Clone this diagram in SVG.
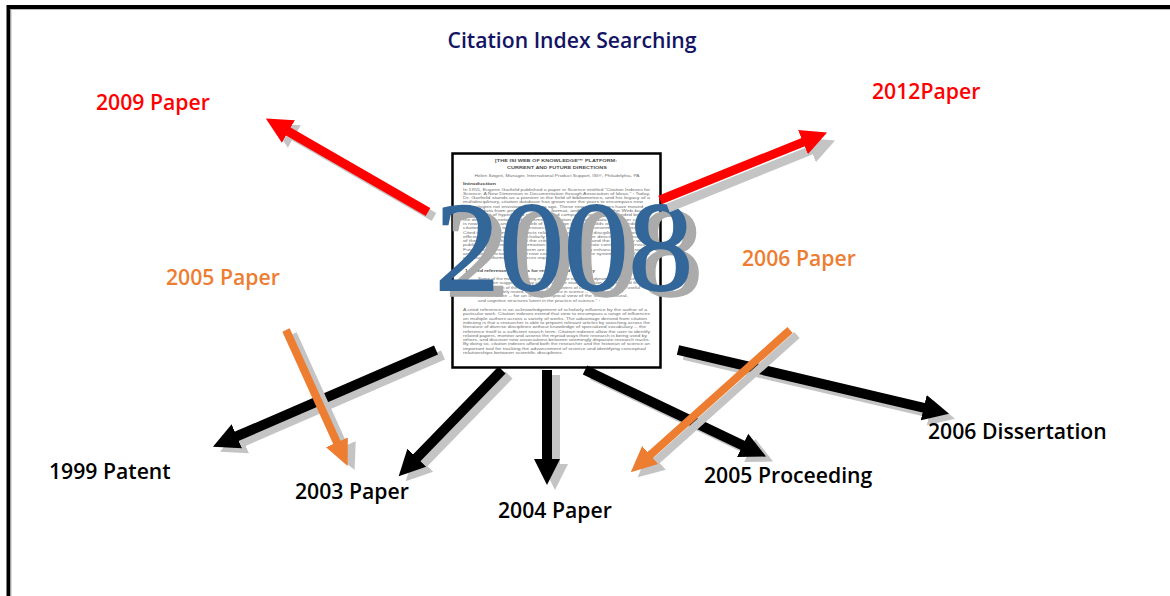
<svg xmlns="http://www.w3.org/2000/svg" width="1170" height="596" viewBox="0 0 1170 596">
<style>
.lbl{font-family:"Open Sans","Noto Sans","Liberation Sans",sans-serif;font-size:21.2px;font-weight:600}
.blk{fill:#000}
.red{fill:#ff0000}
.org{fill:#ed7d31}
.ttl{font-family:"Open Sans","Noto Sans","Liberation Sans",sans-serif;font-size:21.2px;font-weight:600;fill:#141464}
.doc{font-family:"Liberation Sans",Arial,sans-serif;fill:#6e6e6e;font-size:3.6px}
.doch{font-family:"Liberation Sans",Arial,sans-serif;fill:#4a4a4a;font-weight:bold}
.big{font-family:"Liberation Serif","Times New Roman",serif;font-size:127px}
.sh{stroke:#c4c4c4;marker-end:url(#mg)}
.kb{stroke:#000;stroke-width:10;marker-end:url(#mk)}
.kr{stroke:#ff0000;stroke-width:9;marker-end:url(#mr)}
.ko{stroke:#ed7d31;stroke-width:8;marker-end:url(#mo)}
</style>
<defs>
<marker id="mk" markerUnits="userSpaceOnUse" viewBox="0 -14 28 28" refX="1" refY="0" markerWidth="28" markerHeight="28" orient="auto"><path d="M0,-13 L26,0 L0,13 z" fill="#000"/></marker>
<marker id="mr" markerUnits="userSpaceOnUse" viewBox="0 -14 28 28" refX="1" refY="0" markerWidth="28" markerHeight="28" orient="auto"><path d="M0,-13 L26,0 L0,13 z" fill="#ff0000"/></marker>
<marker id="mo" markerUnits="userSpaceOnUse" viewBox="0 -14 28 28" refX="1" refY="0" markerWidth="28" markerHeight="28" orient="auto"><path d="M0,-12 L26,0 L0,12 z" fill="#ed7d31"/></marker>
<marker id="mg" markerUnits="userSpaceOnUse" viewBox="0 -14 28 28" refX="1" refY="0" markerWidth="28" markerHeight="28" orient="auto"><path d="M0,-13 L26,0 L0,13 z" fill="#c4c4c4"/></marker>
</defs>
<rect width="1170" height="596" fill="#fff"/>
<rect x="8.5" y="7" width="1300" height="700" fill="none" stroke="#000" stroke-width="4"/>
<rect x="11" y="9.5" width="1300" height="700" fill="none" stroke="#bbb" stroke-width="1"/>

<g id="title"><text class="ttl" x="572" y="48" text-anchor="middle">Citation Index Searching</text></g>

<g id="doc2008">
<rect x="452.5" y="153.5" width="208" height="214" fill="#fff" stroke="#000" stroke-width="2.5"/>
<text class="doch" x="556" y="162" text-anchor="middle" font-size="4.3" textLength="122" lengthAdjust="spacingAndGlyphs">[THE ISI WEB OF KNOWLEDGE™ PLATFORM:</text>
<text class="doch" x="557" y="168.5" text-anchor="middle" font-size="4.3" textLength="100" lengthAdjust="spacingAndGlyphs">CURRENT AND FUTURE DIRECTIONS</text>
<text class="doc" x="557" y="176.5" text-anchor="middle" textLength="165" lengthAdjust="spacingAndGlyphs">Helen Szigeti, Manager, International Product Support, ISI®, Philadelphia, PA</text>
<text class="doch" x="463" y="184.5" font-size="4.2" textLength="33" lengthAdjust="spacingAndGlyphs">Introduction</text>
<g class="doc">
<text x="463" y="190.5" textLength="187" lengthAdjust="spacingAndGlyphs">In 1955, Eugene Garfield published a paper in Science entitled "Citation Indexes for</text>
<text x="463" y="194.8" textLength="187" lengthAdjust="spacingAndGlyphs">Science: A New Dimension in Documentation through Association of Ideas." ¹ Today,</text>
<text x="463" y="199.1" textLength="187" lengthAdjust="spacingAndGlyphs">Dr. Garfield stands as a pioneer in the field of bibliometrics, and his legacy of a</text>
<text x="463" y="203.4" textLength="180" lengthAdjust="spacingAndGlyphs">multidisciplinary, citation database has grown over the years to encompass new</text>
<text x="463" y="207.7" textLength="180" lengthAdjust="spacingAndGlyphs">technologies not envisioned 45 years ago.  These new technologies have moved</text>
<text x="463" y="212.0" textLength="187" lengthAdjust="spacingAndGlyphs">citation data from print to electronic format, and ultimately to the Web-based</text>
<text x="463" y="216.3" textLength="187" lengthAdjust="spacingAndGlyphs">environment of hyperlinked resources, and computing power has extended beyond</text>
<text x="463" y="220.6" textLength="187" lengthAdjust="spacingAndGlyphs">the desktop to networked systems. Integration of citation data with other content</text>
<text x="463" y="224.9" textLength="187" lengthAdjust="spacingAndGlyphs">is now possible, and the ISI Web of Knowledge platform builds on the foundation of</text>
<text x="463" y="229.2" textLength="187" lengthAdjust="spacingAndGlyphs">citation indexing to provide researchers with a unique environment for discovery.</text>
<text x="463" y="233.5" textLength="187" lengthAdjust="spacingAndGlyphs">Cited reference linking connects related research across disciplines, and provides</text>
<text x="463" y="237.8" textLength="187" lengthAdjust="spacingAndGlyphs">efficient navigation of the scholarly literature. This paper describes the features</text>
<text x="463" y="242.1" textLength="187" lengthAdjust="spacingAndGlyphs">of the platform that support the critical research tasks and the means by which</text>
<text x="463" y="246.4" textLength="187" lengthAdjust="spacingAndGlyphs">publishers, libraries and information providers can integrate content and services.</text>
<text x="463" y="250.7" textLength="187" lengthAdjust="spacingAndGlyphs">Future directions of the platform are discussed, including enhancements to search</text>
<text x="463" y="255.0" textLength="187" lengthAdjust="spacingAndGlyphs">and linking functionality, and new content that extends the system to the full range</text>
<text x="463" y="259.3" textLength="120" lengthAdjust="spacingAndGlyphs">of research information resources required by scholars.</text>
</g>
<text class="doch" x="465" y="272" font-size="4.3" textLength="130" lengthAdjust="spacingAndGlyphs">1.     Cited references:  A basis for research and discovery</text>
<g class="doc">
<text x="478" y="280" textLength="162" lengthAdjust="spacingAndGlyphs">Some of the most interesting insights into the nature and dynamics of science, it</text>
<text x="478" y="284.3" textLength="162" lengthAdjust="spacingAndGlyphs">has been suggested, may come from the study of citation patterns, and the</text>
<text x="478" y="288.6" textLength="162" lengthAdjust="spacingAndGlyphs">identification of the research front, of clusters of co-cited papers, and a useful</text>
<text x="478" y="292.9" textLength="110" lengthAdjust="spacingAndGlyphs">heuristic, widely routed, but an elusive face in science --</text>
<text x="478" y="297.2" textLength="150" lengthAdjust="spacingAndGlyphs">the literature -- for an unduly skeptical view of the social, cultural,</text>
<text x="478" y="301.5" textLength="122" lengthAdjust="spacingAndGlyphs">and cognitive structures latent in the practice of science." ²</text>
<text x="463" y="311" textLength="184" lengthAdjust="spacingAndGlyphs">A cited reference is an acknowledgement of scholarly influence by the author of a</text>
<text x="463" y="315.3" textLength="187" lengthAdjust="spacingAndGlyphs">particular work.  Citation indexes extend that view to encompass a range of influences</text>
<text x="463" y="319.6" textLength="184" lengthAdjust="spacingAndGlyphs">on multiple authors across a variety of works.  The advantage derived from citation</text>
<text x="463" y="323.9" textLength="187" lengthAdjust="spacingAndGlyphs">indexing is that a researcher is able to pinpoint relevant articles by searching across the</text>
<text x="463" y="328.2" textLength="183" lengthAdjust="spacingAndGlyphs">literature of diverse disciplines without knowledge of specialized vocabulary -- the</text>
<text x="463" y="332.5" textLength="187" lengthAdjust="spacingAndGlyphs">reference itself is a sufficient search term.  Citation indexes allow the user to identify</text>
<text x="463" y="336.8" textLength="184" lengthAdjust="spacingAndGlyphs">related papers, monitor and assess the myriad ways their research is being used by</text>
<text x="463" y="341.1" textLength="187" lengthAdjust="spacingAndGlyphs">others, and discover new associations between seemingly disparate research tracks.</text>
<text x="463" y="345.4" textLength="187" lengthAdjust="spacingAndGlyphs">By doing so, citation indexes afford both the researcher and the historian of science an</text>
<text x="463" y="349.7" textLength="183" lengthAdjust="spacingAndGlyphs">important tool for tracking the advancement of science and identifying conceptual</text>
<text x="463" y="354.0" textLength="100" lengthAdjust="spacingAndGlyphs">relationships between scientific disciplines.</text>
</g>
<text class="big" x="445" y="296" fill="#ababab" stroke="#ababab" stroke-width="1.5" textLength="258" lengthAdjust="spacingAndGlyphs">2008</text>
<text class="big" x="435" y="290" fill="#336699" stroke="#336699" stroke-width="1.8" textLength="258" lengthAdjust="spacingAndGlyphs">2008</text>
</g>

<g id="connectors" fill="none">
<g transform="translate(7,5)">
<line class="sh" x1="436" y1="350" x2="235.9" y2="436.7" stroke-width="10"/>
</g>
<line class="kb" x1="436" y1="350" x2="235.9" y2="436.7"/>
<g transform="translate(7,5)">
<line class="sh" x1="502" y1="370" x2="416.1" y2="458.4" stroke-width="10"/>
</g>
<line class="kb" x1="502" y1="370" x2="416.1" y2="458.4"/>
<g transform="translate(8,5)">
<line class="sh" x1="547" y1="370" x2="547" y2="460" stroke-width="10"/>
</g>
<line class="kb" x1="547" y1="370" x2="547" y2="460"/>
<g transform="translate(7,5)">
<line class="sh" x1="585" y1="370" x2="743.5" y2="445.8" stroke-width="10"/>
</g>
<line class="kb" x1="585" y1="370" x2="743.5" y2="445.8"/>
<g transform="translate(6,5)">
<line class="sh" x1="678" y1="350" x2="924.7" y2="408" stroke-width="10"/>
</g>
<line class="kb" x1="678" y1="350" x2="924.7" y2="408"/>
<g transform="translate(7,4)">
<line class="sh" x1="286" y1="330" x2="337.3" y2="443.3" stroke-width="8"/>
</g>
<line class="ko" x1="286" y1="330" x2="337.3" y2="443.3"/>
<g transform="translate(7,5)">
<line class="sh" x1="790" y1="330" x2="649.4" y2="455.7" stroke-width="8"/>
</g>
<line class="ko" x1="790" y1="330" x2="649.4" y2="455.7"/>
<g transform="translate(6,5)">
<line class="sh" x1="428" y1="212" x2="287.5" y2="131" stroke-width="9"/>
</g>
<line class="kr" x1="428" y1="212" x2="287.5" y2="131"/>
<g transform="translate(8,8)">
<line class="sh" x1="660" y1="200" x2="803.9" y2="141.8" stroke-width="9"/>
</g>
<line class="kr" x1="660" y1="200" x2="803.9" y2="141.8"/>
</g>

<g id="n2009"><text class="lbl red" x="96" y="110">2009 Paper</text></g>
<g id="n2012"><text class="lbl red" x="872" y="99">2012Paper</text></g>
<g id="n2005p"><text class="lbl org" x="166" y="285">2005 Paper</text></g>
<g id="n2006p"><text class="lbl org" x="742" y="266">2006 Paper</text></g>
<g id="n1999"><text class="lbl blk" x="49" y="479">1999 Patent</text></g>
<g id="n2003"><text class="lbl blk" x="295" y="499">2003 Paper</text></g>
<g id="n2004"><text class="lbl blk" x="498" y="518">2004 Paper</text></g>
<g id="n2005pr"><text class="lbl blk" x="704" y="483">2005 Proceeding</text></g>
<g id="n2006d"><text class="lbl blk" x="928" y="439">2006 Dissertation</text></g>
</svg>
